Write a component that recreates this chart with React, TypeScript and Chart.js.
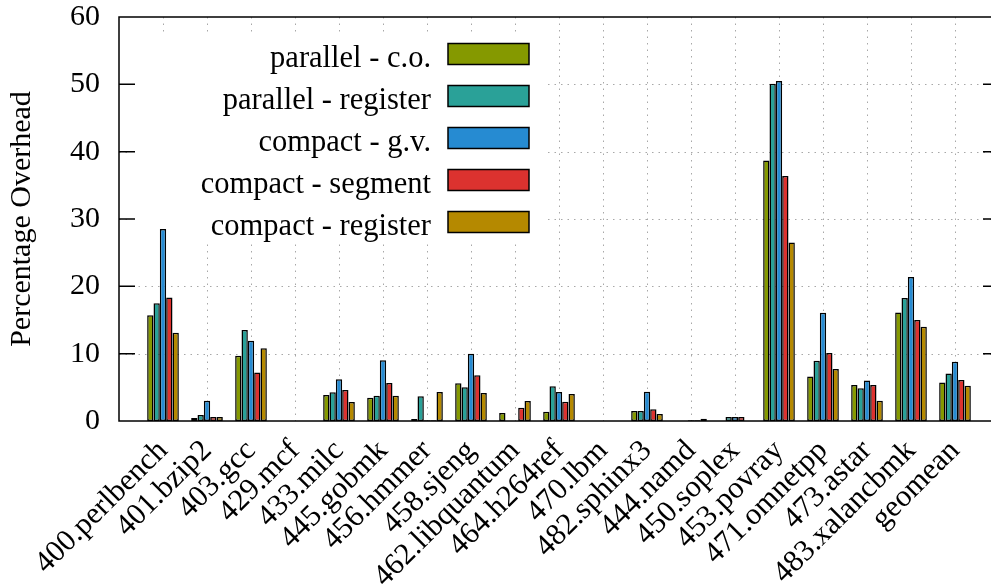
import React, { useEffect, useRef } from 'react';
import { Chart, registerables } from 'chart.js';

Chart.register(...registerables);

const categories = [
  '400.perlbench', '401.bzip2', '403.gcc', '429.mcf', '433.milc', '445.gobmk',
  '456.hmmer', '458.sjeng', '462.libquantum', '464.h264ref', '470.lbm',
  '482.sphinx3', '444.namd', '450.soplex', '453.povray', '471.omnetpp',
  '473.astar', '483.xalancbmk', 'geomean',
];

const seriesNames = [
  'parallel - c.o.',
  'parallel - register',
  'compact - g.v.',
  'compact - segment',
  'compact - register',
];

const parallelCO = [15.7, 0.45, 9.7, 0, 3.87, 3.47, 0.3, 5.6, 1.19, 1.38, 0, 1.49, 0, 0, 38.7, 6.6, 5.36, 16.1, 5.7];
const parallelRegister = [17.5, 0.9, 13.5, 0, 4.27, 3.76, 3.68, 5.0, 0, 5.16, 0, 1.49, 0, 0.6, 50.1, 8.93, 4.87, 18.26, 7.04];
const compactGV = [28.5, 3.0, 11.9, 0, 6.2, 9.03, 0.1, 9.97, 0, 4.3, 0, 4.36, 0.1, 0.6, 50.5, 16.07, 6.0, 21.4, 8.8];
const compactSegment = [18.35, 0.6, 7.2, 0, 4.6, 5.65, 0.1, 6.8, 1.98, 2.87, 0, 1.74, 0.1, 0.6, 36.4, 10.1, 5.36, 15.0, 6.1];
const compactRegister = [13.1, 0.6, 10.8, 0, 2.83, 3.76, 4.3, 4.17, 2.98, 4.0, 0, 1.04, 0.35, 0, 26.5, 7.74, 3.02, 14.0, 5.25];

const yTicks = [0, 10, 20, 30, 40, 50, 60];

const seriesValues = [parallelCO, parallelRegister, compactGV, compactSegment, compactRegister];
const seriesColors = ['#859900', '#2aa198', '#268bd2', '#dc322f', '#b58900'];

const FONT = '"Liberation Serif", "Times New Roman", Times, serif';

const overlay = {
  id: 'overlay',
  beforeDatasetsDraw(chart: any) {
    const { ctx, chartArea: a, scales } = chart;
    const xs = scales.x;
    const ys = scales.y;
    ctx.save();
    ctx.strokeStyle = '#a8a8a8';
    ctx.lineWidth = 1;
    ctx.setLineDash([1.5, 5]);
    yTicks.forEach((t) => {
      if (t === yTicks[0] || t === yTicks[yTicks.length - 1]) return;
      const py = Math.round(ys.getPixelForValue(t)) + 0.5;
      ctx.beginPath();
      ctx.moveTo(a.left, py);
      ctx.lineTo(a.right, py);
      ctx.stroke();
    });
    categories.forEach((_, i) => {
      const px = Math.round(xs.getPixelForValue(i)) + 0.5;
      ctx.beginPath();
      ctx.moveTo(px, a.top);
      ctx.lineTo(px, a.bottom);
      ctx.stroke();
    });
    ctx.setLineDash([]);

    // opaque key box
    ctx.fillStyle = '#ffffff';
    ctx.fillRect(a.left + 11, a.top + 18, 416, 209);

    // key entries
    ctx.font = '30.5px ' + FONT;
    ctx.textAlign = 'right';
    ctx.textBaseline = 'alphabetic';
    chart.data.datasets.forEach((ds: any, k: number) => {
      const cy = a.top + 37 + k * 42;
      ctx.fillStyle = '#000';
      ctx.fillText(ds.label, a.left + 312, cy + 12.5);
      ctx.fillStyle = ds.backgroundColor;
      ctx.fillRect(a.left + 329, cy - 10.5, 81, 21);
      ctx.strokeStyle = '#000';
      ctx.lineWidth = 1.5;
      ctx.strokeRect(a.left + 329, cy - 10.5, 81, 21);
    });
    ctx.restore();
  },
  afterDatasetsDraw(chart: any) {
    const { ctx, chartArea: a, scales } = chart;
    const ys = scales.y;
    ctx.save();
    ctx.strokeStyle = '#000';
    ctx.lineWidth = 1.5;
    ctx.strokeRect(a.left, a.top, a.right - a.left, a.bottom - a.top);
    yTicks.forEach((t) => {
      if (t === yTicks[0] || t === yTicks[yTicks.length - 1]) return;
      const py = ys.getPixelForValue(t);
      ctx.beginPath();
      ctx.moveTo(a.left, py);
      ctx.lineTo(a.left + 16, py);
      ctx.moveTo(a.right - 16, py);
      ctx.lineTo(a.right, py);
      ctx.stroke();
    });
    ctx.restore();
  },
};

export default function App() {
  const ref = useRef<HTMLCanvasElement>(null);

  useEffect(() => {
    if (!ref.current) return;
    const chart = new Chart(ref.current, {
      type: 'bar',
      data: {
        datasets: seriesValues.map((vals, k) => ({
          label: seriesNames[k],
          data: vals.map((v, i) => ({ x: i, y: v })),
          backgroundColor: seriesColors[k],
          borderColor: '#000000',
          borderWidth: 1.5,
          borderSkipped: false,
          categoryPercentage: 0.72,
          barPercentage: 1,
        })),
      } as any,
      plugins: [overlay],
      options: {
        responsive: false,
        animation: false,
        layout: { padding: { top: 17, right: 1, left: 0, bottom: 0 } },
        plugins: {
          legend: { display: false },
          tooltip: { enabled: false },
        },
        scales: {
          x: {
            type: 'linear',
            min: -1,
            max: 19,
            offset: false,
            grid: { display: false, drawTicks: false },
            border: { display: false },
            afterBuildTicks: (s: any) => {
              s.ticks = categories.map((_, i) => ({ value: i }));
            },
            afterFit: (s: any) => {
              s.height = 163;
              s.paddingLeft = 0;
              s.paddingRight = 0;
              s.paddingTop = 0;
              s.paddingBottom = 0;
            },
            ticks: {
              autoSkip: false,
              maxRotation: 45,
              minRotation: 45,
              padding: 12,
              color: '#000',
              font: { family: FONT, size: 30.5 },
              callback: (v: any) => categories[v] ?? '',
            },
          },
          y: {
            min: 0,
            max: 60,
            grid: { display: false, drawTicks: false },
            border: { display: false },
            afterFit: (s: any) => {
              s.width = 119;
              s.paddingLeft = 0;
              s.paddingRight = 0;
              s.paddingTop = 0;
              s.paddingBottom = 0;
            },
            ticks: {
              stepSize: 10,
              padding: 19,
              color: '#000',
              font: { family: FONT, size: 30 },
            },
            title: {
              display: true,
              text: 'Percentage Overhead',
              color: '#000',
              font: { family: FONT, size: 30 },
              padding: { top: 4, bottom: 0 },
            },
          },
        },
      } as any,
    });
    return () => chart.destroy();
  }, []);

  return (
    <div style={{ position: 'fixed', left: 0, top: 0, width: 991, height: 584, overflow: 'hidden', background: '#fff' }}>
      <canvas ref={ref} width={1000} height={584} style={{ display: 'block' }} />
    </div>
  );
}
